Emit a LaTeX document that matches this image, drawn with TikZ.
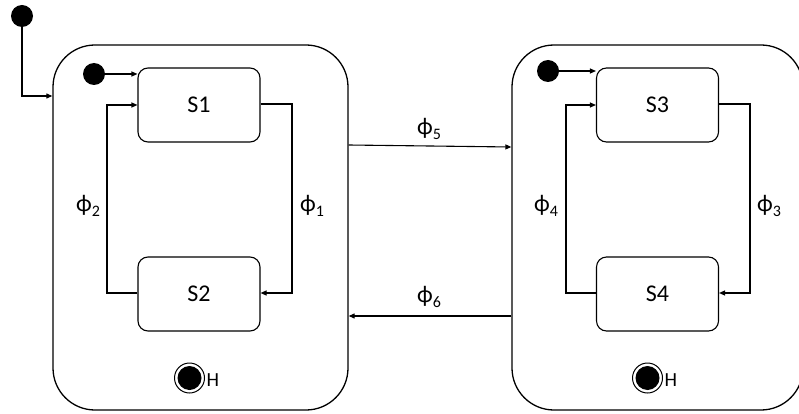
\documentclass[tikz,border=0pt]{standalone}
\usepackage{fontspec}
\setmainfont{Carlito}
\usetikzlibrary{arrows.meta}
% guard label: phi with a lowered index
\newcommand{\phisub}[1]{ϕ\raisebox{-0.18em}{\fontsize{16}{18}\selectfont #1}}
\begin{document}
\begin{tikzpicture}[x=1pt,y=-1pt,
  every node/.style={font=\fontsize{24}{28}\selectfont},
  arr/.style={line width=1.1pt,-{Triangle[length=6pt,width=5pt]}},
  superstate/.style={draw,line width=1.3pt,rounded corners=42pt,minimum height=365pt,inner sep=0pt},
  state/.style={draw,line width=1.1pt,rounded corners=10pt,minimum width=122pt,minimum height=74pt,inner sep=0pt},
  initdot/.style={circle,fill=black,minimum size=22pt,inner sep=0pt},
  histring/.style={circle,draw,line width=1pt,minimum size=30pt,inner sep=0pt},
  histdot/.style={circle,fill=black,minimum size=24pt,inner sep=0pt},
  lbl/.style={inner sep=0pt},
  hlbl/.style={inner sep=0pt,anchor=west,font=\fontsize{20}{24}\selectfont}]
\useasboundingbox (0,0) rectangle (799,414);

% composite states
\node[superstate,minimum width=295pt] (A) at (200.5,227.5) {};
\node[superstate,minimum width=291pt] (B) at (657.5,227.5) {};

% top-level initial pseudostate
\node[initdot] (i0) at (22,16) {};
\coordinate (c0) at (22,96);
\draw[arr] (i0.south) -- (c0) -- (A.west |- c0);

% left region
\node[state] (S1) at (199,105) {S1};
\node[state] (S2) at (199,294) {S2};
\node[initdot] (i1) at (94,74) {};
\draw[arr] (i1.east) -- (S1.west |- i1);

\coordinate (r1) at (292,104);
\coordinate (r2) at (292,293);
\draw[arr] (S1.east |- r1) -- (r1) -- (r2) -- (S2.east |- r2);
\coordinate (l1) at (107,293);
\coordinate (l2) at (107,105);
\draw[arr] (S2.west |- l1) -- (l1) -- (l2) -- (S1.west |- l2);
\node[lbl] (p1) at (312,206) {\phisub{1}};
\node[lbl] (p2) at (88,206) {\phisub{2}};

\node[histring] (h1) at (189.5,378) {};
\node[histdot] (h1d) at (h1) {};
\node[hlbl] (h1t) at (206.5,380) {H};

% right region
\node[state] (S3) at (657.5,105) {S3};
\node[state] (S4) at (657.5,294) {S4};
\node[initdot] (i2) at (548,71) {};
\draw[arr] (i2.east) -- (S3.west |- i2);

\coordinate (r3) at (750,104);
\coordinate (r4) at (750,293);
\draw[arr] (S3.east |- r3) -- (r3) -- (r4) -- (S4.east |- r4);
\coordinate (l3) at (566,293);
\coordinate (l4) at (566,105);
\draw[arr] (S4.west |- l3) -- (l3) -- (l4) -- (S3.west |- l4);
\node[lbl] (p3) at (769,206) {\phisub{3}};
\node[lbl] (p4) at (546,206) {\phisub{4}};

\node[histring] (h2) at (647.5,378) {};
\node[histdot] (h2d) at (h2) {};
\node[hlbl] (h2t) at (664.5,380) {H};

% transitions between the composite states
\coordinate (t5a) at (348,145);
\coordinate (t5b) at (512,147);
\coordinate (t6a) at (512,316);
\coordinate (t6b) at (348,316);
\draw[arr] (A.east |- t5a) -- (B.west |- t5b);
\draw[arr] (B.west |- t6a) -- (A.east |- t6b);
\node[lbl] (p5) at (429,129) {\phisub{5}};
\node[lbl] (p6) at (429,297) {\phisub{6}};
\end{tikzpicture}
\end{document}
